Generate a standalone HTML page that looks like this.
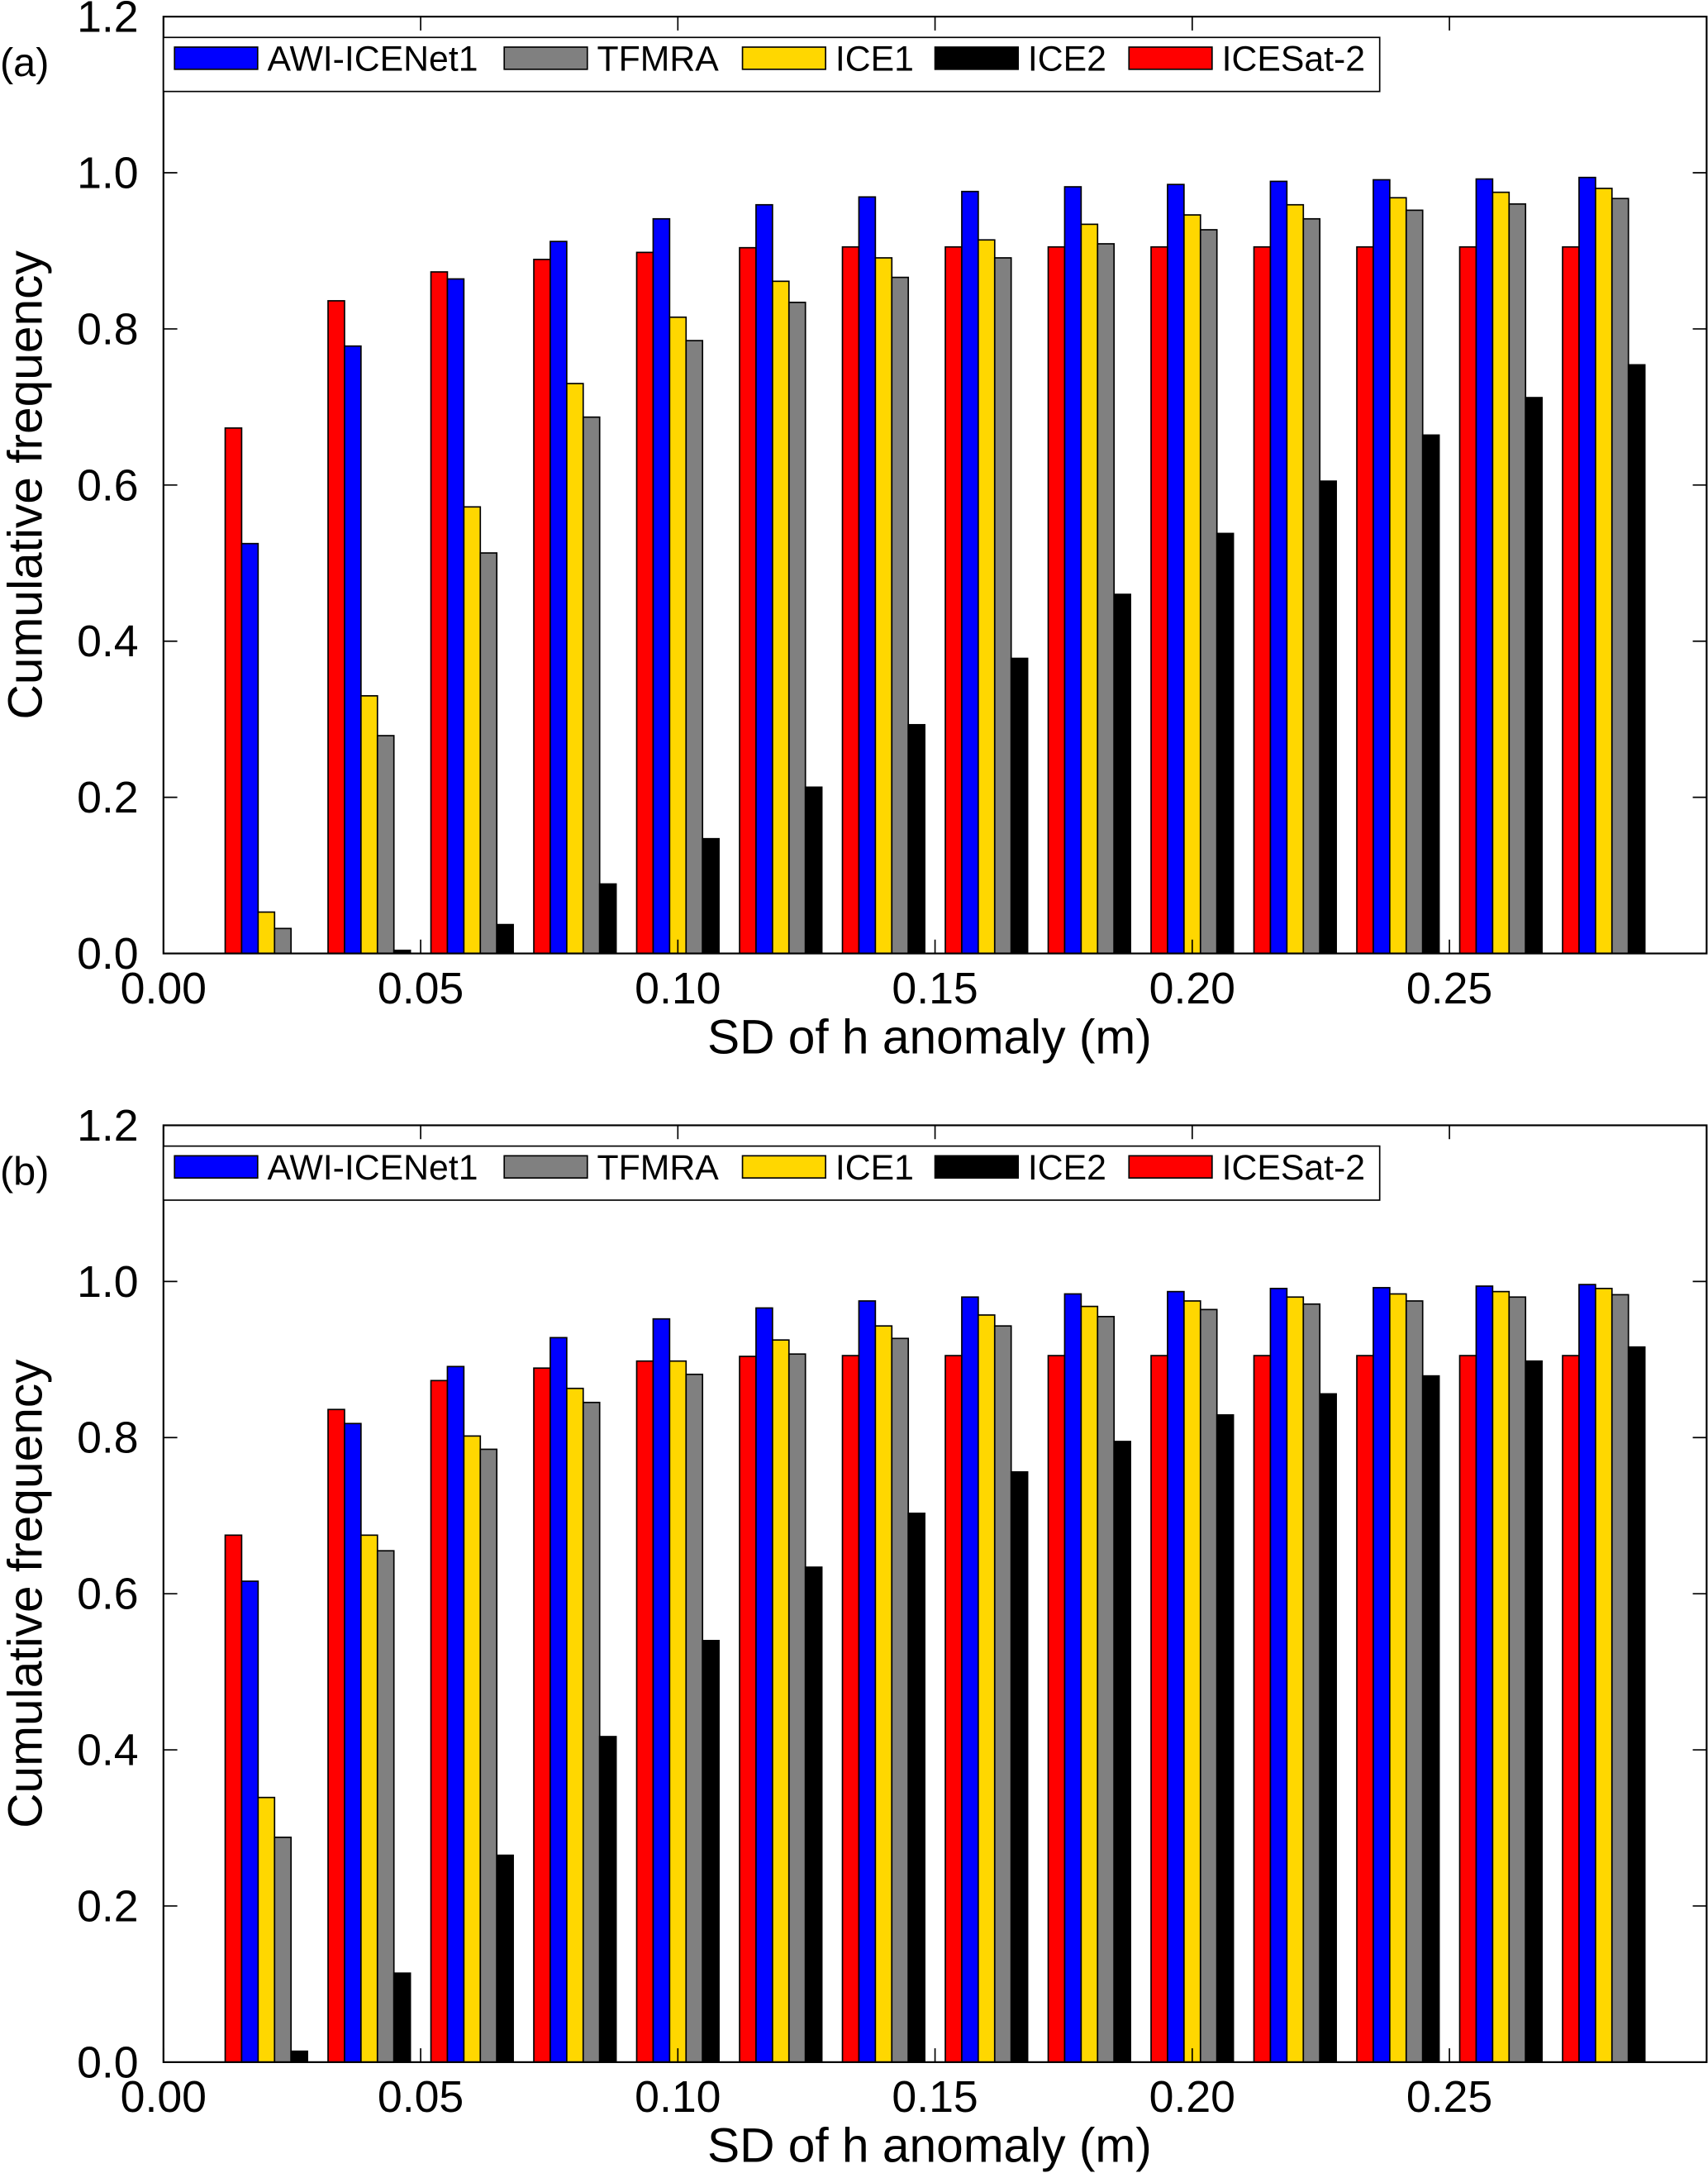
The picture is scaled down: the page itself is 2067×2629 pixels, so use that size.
<!DOCTYPE html>
<html><head><meta charset="utf-8"><style>
html,body{margin:0;padding:0;background:#fff}
svg{display:block;font-family:"Liberation Sans",Arial,sans-serif}
</style></head><body>
<svg id="chart" width="2067" height="2629" viewBox="0 0 1233 1568" preserveAspectRatio="none" xmlns="http://www.w3.org/2000/svg"></svg>
<script>
const categories=[0.02,0.04,0.06,0.08,0.10,0.12,0.14,0.16,0.18,0.20,0.22,0.24,0.26,0.28];
const seriesNames=["ICESat-2","AWI-ICENet1","ICE1","TFMRA","ICE2"];
const legendOrder=["AWI-ICENet1","TFMRA","ICE1","ICE2","ICESat-2"];
const xTickLabels=["0.00","0.05","0.10","0.15","0.20","0.25"];
const yTickLabels=["0.0","0.2","0.4","0.6","0.8","1.0","1.2"];
const aICESat2=[0.673,0.836,0.873,0.889,0.898,0.904,0.905,0.905,0.905,0.905,0.905,0.905,0.905,0.905];
const aAWI=[0.525,0.778,0.864,0.912,0.941,0.959,0.969,0.976,0.982,0.985,0.989,0.991,0.992,0.994];
const aICE1=[0.053,0.330,0.572,0.730,0.815,0.861,0.891,0.914,0.934,0.946,0.959,0.968,0.975,0.980];
const aTFMRA=[0.032,0.279,0.513,0.687,0.785,0.834,0.866,0.891,0.909,0.927,0.941,0.952,0.960,0.967];
const aICE2=[0.000,0.004,0.037,0.089,0.147,0.213,0.293,0.378,0.460,0.538,0.605,0.664,0.712,0.754];
const bICESat2=[0.675,0.836,0.873,0.889,0.898,0.904,0.905,0.905,0.905,0.905,0.905,0.905,0.905,0.905];
const bAWI=[0.616,0.818,0.891,0.928,0.952,0.966,0.975,0.980,0.984,0.987,0.991,0.992,0.994,0.996];
const bICE1=[0.339,0.675,0.802,0.863,0.898,0.925,0.943,0.957,0.968,0.975,0.980,0.984,0.987,0.991];
const bTFMRA=[0.288,0.655,0.785,0.845,0.881,0.907,0.927,0.943,0.955,0.964,0.971,0.975,0.980,0.983];
const bICE2=[0.014,0.114,0.265,0.417,0.540,0.634,0.703,0.756,0.795,0.829,0.856,0.879,0.898,0.916];
const colors={"ICESat-2":"#ff0000","AWI-ICENet1":"#0000ff","ICE1":"#ffd700","TFMRA":"#808080","ICE2":"#000000"};
const NS="http://www.w3.org/2000/svg";
const svg=document.getElementById('chart');
function mk(tag,attrs,parent){const e=document.createElementNS(NS,tag);for(const k in attrs)e.setAttribute(k,attrs[k]);(parent||svg).appendChild(e);return e;}
const L=118,R=1232;
function drawPanel(top,label,data,name){
  const bottom=top+676;
  const g=mk('g',{});
  
  
  const xs=v=>L+v/0.3*(R-L);
  const ys=v=>bottom-v/1.2*(bottom-top);
  const bw=0.0032/0.3*(R-L);
  seriesNames.forEach((s,si)=>{
    data[si].forEach((v,ci)=>{
      if(v<=0)return;
      const x=xs(categories[ci])-2.5*bw+si*bw;
      const r=mk('rect',{x:x,y:ys(v),width:bw,height:ys(0)-ys(v),fill:colors[s],stroke:'#000','stroke-width':1},g);
      
      
    });
  });
  const fr=mk('rect',{x:L,y:top,width:R-L,height:bottom-top,fill:'none',stroke:'#000','stroke-width':1.3},g);
  
  
  yTickLabels.forEach((t,i)=>{
    const y=ys(i*0.2);
    mk('line',{x1:L,x2:L+10,y1:y,y2:y,stroke:'#000'},g);
    mk('line',{x1:R,x2:R-10,y1:y,y2:y,stroke:'#000'},g);
    const tx=mk('text',{x:100,y:y+11,'font-size':32,'text-anchor':'end'},g);
    tx.textContent=t;
    
    
  });
  xTickLabels.forEach((t,i)=>{
    const x=xs(i*0.05);
    mk('line',{x1:x,x2:x,y1:bottom,y2:bottom-10,stroke:'#000'},g);
    mk('line',{x1:x,x2:x,y1:top,y2:top+10,stroke:'#000'},g);
    const tx=mk('text',{x:x,y:bottom+36,'font-size':32,'text-anchor':'middle'},g);
    tx.textContent=t;
    
    
  });
  const xt=mk('text',{x:671,y:bottom+72,'font-size':35,'text-anchor':'middle'},g);
  xt.textContent='SD of h anomaly (m)';
  
  
  const yt=mk('text',{x:0,y:0,'font-size':35,'text-anchor':'middle',transform:`translate(30,${top+338}) rotate(-90)`},g);
  yt.textContent='Cumulative frequency';
  
  
  const pl=mk('text',{x:0,y:top+43,'font-size':29},g);
  pl.textContent=label;
  
  
  const lg=mk('g',{},g);
  
  
  mk('rect',{x:L,y:top+15,width:878,height:39,fill:'#fff',stroke:'#000','stroke-width':1},lg);
  const sw=[126,364,536,675,815];
  legendOrder.forEach((s,i)=>{
    const e=mk('g',{},lg);
    
    
    mk('rect',{x:sw[i],y:top+22,width:60,height:16,fill:colors[s],stroke:'#000'},e);
    const t=mk('text',{x:sw[i]+67,y:top+39,'font-size':25.5},e);
    t.textContent=s;
  });
}
drawPanel(12,'(a)',[aICESat2,aAWI,aICE1,aTFMRA,aICE2],'panel-a');
drawPanel(812,'(b)',[bICESat2,bAWI,bICE1,bTFMRA,bICE2],'panel-b');
</script>
</body></html>
